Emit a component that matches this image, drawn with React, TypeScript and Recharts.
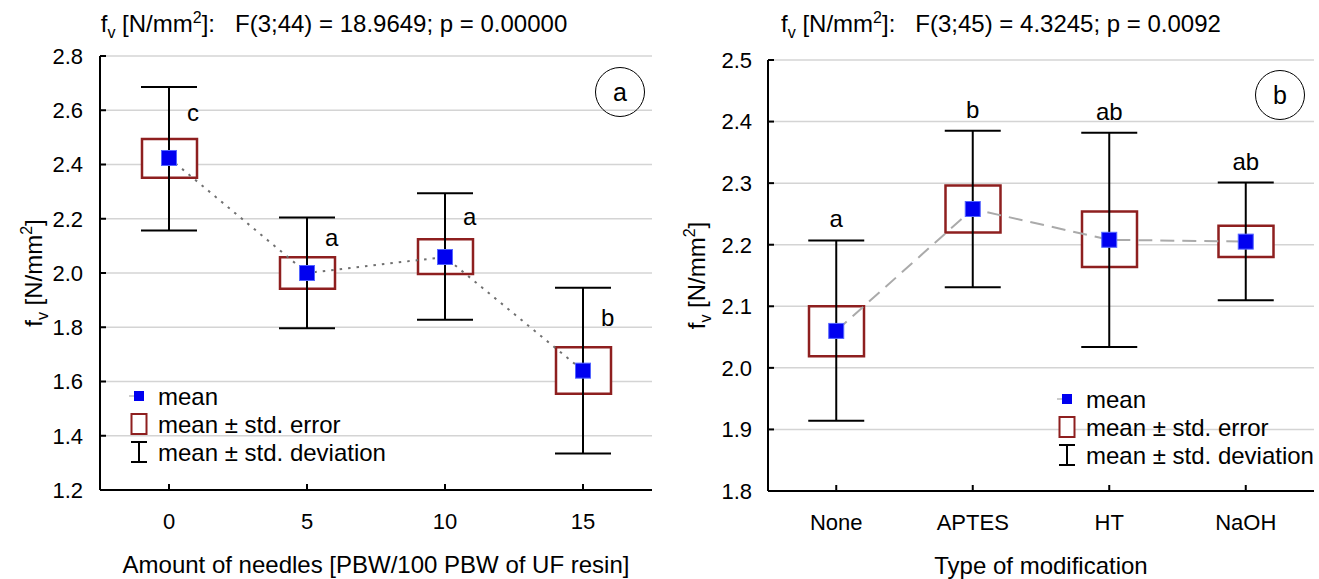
import React from "react";
import {
	ComposedChart,
	Bar,
	Line,
	Scatter,
	ErrorBar,
	XAxis,
	YAxis,
	CartesianGrid,
	ReferenceDot,
	Label,
} from "recharts";

const FONT = '"Liberation Sans", Arial, Helvetica, sans-serif';

// panel a: amount of needles
const needles = ["0", "5", "10", "15"];
const meanA = [2.424, 2.0, 2.059, 1.64];
const seLowA = [2.351, 1.942, 1.996, 1.555];
const seHighA = [2.494, 2.058, 2.124, 1.726];
const sdLowA = [2.157, 1.796, 1.828, 1.335];
const sdHighA = [2.686, 2.205, 2.294, 1.946];
const lettersA = ["c", "a", "a", "b"];
const ticksA = [1.2, 1.4, 1.6, 1.8, 2.0, 2.2, 2.4, 2.6, 2.8];

// panel b: type of modification
const mods = ["None", "APTES", "HT", "NaOH"];
const meanB = [2.06, 2.258, 2.208, 2.205];
const seLowB = [2.019, 2.22, 2.164, 2.18];
const seHighB = [2.1, 2.296, 2.254, 2.231];
const sdLowB = [1.914, 2.131, 2.034, 2.11];
const sdHighB = [2.207, 2.385, 2.382, 2.301];
const lettersB = ["a", "b", "ab", "ab"];
const ticksB = [1.8, 1.9, 2.0, 2.1, 2.2, 2.3, 2.4, 2.5];

const buildRows = (
	cats: string[],
	mean: number[],
	seLow: number[],
	seHigh: number[],
	sdLow: number[],
	sdHigh: number[],
	letters: string[]
) =>
	cats.map((cat, i) => ({
		cat,
		mean: mean[i],
		se: [seLow[i], seHigh[i]],
		sdErr: [mean[i] - sdLow[i], sdHigh[i] - mean[i]],
		sdHigh: sdHigh[i],
		letterMid: (sdHigh[i] + seHigh[i]) / 2,
		letter: letters[i],
	}));

const rowsA = buildRows(needles, meanA, seLowA, seHighA, sdLowA, sdHighA, lettersA);
const rowsB = buildRows(mods, meanB, seLowB, seHighB, sdLowB, sdHighB, lettersB);

const BOX = "#8e1f1f";
const BLUE = "#0000f0";

const MeanSquare = (props: any) => {
	const { cx, cy } = props;
	if (cx == null || cy == null) return <g />;
	return <rect x={cx - 7.5} y={cy - 7.5} width={15} height={15} fill={BLUE} stroke="#5566ff" strokeWidth={1} />;
};

const YTitle = ({ bx, cy }: any) => {
	return (
		<text
			x={bx}
			y={cy}
			transform={`rotate(-90 ${bx} ${cy})`}
			textAnchor="middle"
			fontSize={24}
			fontFamily={FONT}
			fill="#000"
		>
			f
			<tspan dy={6} fontSize={16}>v</tspan>
			<tspan dy={-6}> [N/mm</tspan>
			<tspan dy={-10} fontSize={16}>2</tspan>
			<tspan dy={10}>]</tspan>
		</text>
	);
};

type PanelProps = {
	rows: any[];
	domain: [number, number];
	ticks: number[];
	width: number;
	yAxisWidth: number;
	xAxisHeight: number;
	top: number;
	right: number;
	xLabel: string;
	yTitleX: number;
	lineColor: string;
	dash: string;
	letterSide: "right" | "top";
	yTickMargin: number;
};

const Panel = (p: PanelProps) => {
	const plotTop = p.top;
	const plotBottom = 579 - p.xAxisHeight;
	return (
		<ComposedChart
			width={p.width}
			height={579}
			data={p.rows}
			margin={{ top: p.top, right: p.right, bottom: 0, left: 0 }}
		>
			<CartesianGrid vertical={false} stroke="#d4d4d4" strokeWidth={1.5} />
			<XAxis
				dataKey="cat"
				height={p.xAxisHeight}
				interval={0}
				tickSize={-6}
				tickMargin={29}
				stroke="#000"
				axisLine={{ stroke: "#000", strokeWidth: 2 }}
				tickLine={{ stroke: "#000", strokeWidth: 2 }}
				tick={{ fill: "#000", fontSize: 22, fontFamily: FONT }}
			>
				<Label
					content={({ viewBox }: any) => (
						<text
							x={viewBox.x + viewBox.width / 2}
							y={viewBox.y + 83}
							textAnchor="middle"
							fontSize={24}
							fontFamily={FONT}
							fill="#000"
						>
							{p.xLabel}
						</text>
					)}
				/>
			</XAxis>
			<XAxis
				xAxisId="top"
				dataKey="cat"
				orientation="top"
				height={0}
				interval={0}
				tickSize={-6}
				tick={false}
				axisLine={{ stroke: "#000", strokeWidth: 2 }}
				tickLine={{ stroke: "#000", strokeWidth: 2 }}
			/>
			<YAxis
				type="number"
				domain={p.domain}
				ticks={p.ticks}
				interval={0}
				width={p.yAxisWidth}
				tickSize={-6}
				tickMargin={p.yTickMargin}
				tickFormatter={(v: number) => v.toFixed(1)}
				axisLine={{ stroke: "#000", strokeWidth: 2 }}
				tickLine={{ stroke: "#000", strokeWidth: 2 }}
				tick={{ fill: "#000", fontSize: 22, fontFamily: FONT }}
			>
				<Label content={() => <YTitle bx={p.yTitleX} cy={(plotTop + plotBottom) / 2} />} />
			</YAxis>
			<YAxis
				yAxisId="r"
				orientation="right"
				type="number"
				domain={p.domain}
				ticks={p.ticks}
				interval={0}
				width={0}
				tickSize={-6}
				tick={false}
				axisLine={{ stroke: "#000", strokeWidth: 2 }}
				tickLine={{ stroke: "#000", strokeWidth: 2 }}
			/>
			<Scatter
				dataKey="mean"
				xAxisId="top"
				yAxisId="r"
				shape={() => <g />}
				isAnimationActive={false}
			>
				<ErrorBar dataKey="sdErr" direction="y" width={28} stroke="#000" strokeWidth={2} isAnimationActive={false} />
			</Scatter>
			<Bar
				dataKey="se"
				barSize={55}
				fill="#fff"
				stroke={BOX}
				strokeWidth={2.5}
				isAnimationActive={false}
			/>
			<Line
				type="linear"
				dataKey="mean"
				stroke={p.lineColor}
				strokeWidth={2}
				strokeDasharray={p.dash}
				dot={false}
				activeDot={false}
				isAnimationActive={false}
			/>
			<Scatter dataKey="mean" shape={<MeanSquare />} isAnimationActive={false} />
			{p.rows.map((r) => (
				<ReferenceDot
					key={r.cat}
					x={r.cat}
					y={p.letterSide === "right" ? r.letterMid : r.sdHigh}
					r={0}
					stroke="none"
					fill="none"
					label={{
						value: r.letter,
						position: p.letterSide,
						offset: p.letterSide === "right" ? 18 : 13,
						fontSize: 24,
						fontFamily: FONT,
						fill: "#000",
					}}
				/>
			))}
		</ComposedChart>
	);
};

const LegendBox = ({ left, top }: { left: number; top: number }) => {
	const rowsY = [16, 44, 72];
	const cx = 19;
	const labels = ["mean", "mean \u00b1 std. error", "mean \u00b1 std. deviation"];
	return (
		<svg style={{ position: "absolute", left, top }} width={290} height={90}>
			<line x1={cx - 10} y1={rowsY[0]} x2={cx - 4} y2={rowsY[0]} stroke="#999" strokeWidth={1} />
			<rect x={cx - 5} y={rowsY[0] - 5} width={10} height={10} fill={BLUE} />
			<rect x={cx - 7.5} y={rowsY[1] - 10} width={15} height={20} fill="#fff" stroke={BOX} strokeWidth={2} />
			<line x1={cx} y1={rowsY[2] - 10} x2={cx} y2={rowsY[2] + 10} stroke="#000" strokeWidth={2} />
			<line x1={cx - 8} y1={rowsY[2] - 10} x2={cx + 8} y2={rowsY[2] - 10} stroke="#000" strokeWidth={2} />
			<line x1={cx - 8} y1={rowsY[2] + 10} x2={cx + 8} y2={rowsY[2] + 10} stroke="#000" strokeWidth={2} />
			{labels.map((t, i) => (
				<text key={t} x={38} y={rowsY[i] + 8.5} fontSize={24} fontFamily={FONT} fill="#000">
					{t}
				</text>
			))}
		</svg>
	);
};

const Title = ({ center, stat }: { center: number; stat: string }) => (
	<div
		style={{
			position: "absolute",
			left: center - 300,
			width: 600,
			top: 4,
			textAlign: "center",
			fontSize: 24,
			fontFamily: FONT,
			lineHeight: "28px",
			whiteSpace: "pre",
		}}
	>
		f<sub style={{ fontSize: 16 }}>v</sub> [N/mm<sup style={{ fontSize: 16 }}>2</sup>]:{"   "}
		{stat}
	</div>
);

const Circle = ({ cx, cy, text }: { cx: number; cy: number; text: string }) => (
	<div
		style={{
			position: "absolute",
			left: cx - 25,
			top: cy - 25,
			width: 48,
			height: 48,
			border: "1.5px solid #000",
			borderRadius: "50%",
			display: "flex",
			alignItems: "center",
			justifyContent: "center",
			fontSize: 25,
			fontFamily: FONT,
		}}
	>
		{text}
	</div>
);

export default function App() {
	return (
		<div
			style={{
				position: "absolute",
				left: 0,
				top: 0,
				width: 1319,
				height: 579,
				background: "#fff",
				overflow: "hidden",
			}}
		>
			<div style={{ position: "absolute", left: 0, top: 0 }}>
				<Panel
					rows={rowsA}
					domain={[1.2, 2.8]}
					ticks={ticksA}
					width={660}
					yAxisWidth={100}
					xAxisHeight={89}
					top={56}
					right={8}
					xLabel="Amount of needles [PBW/100 PBW of UF resin]"
					yTitleX={42}
					lineColor="#707070"
					dash="2.5 6"
					letterSide="right"
					yTickMargin={23}
				/>
			</div>
			<div style={{ position: "absolute", left: 660, top: 0 }}>
				<Panel
					rows={rowsB}
					domain={[1.8, 2.5]}
					ticks={ticksB}
					width={659}
					yAxisWidth={108}
					xAxisHeight={88}
					top={60}
					right={5}
					xLabel="Type of modification"
					yTitleX={45}
					lineColor="#aaaaaa"
					dash="14 8"
					letterSide="top"
					yTickMargin={22}
				/>
			</div>
			<Title center={334} stat="F(3;44) = 18.9649; p = 0.00000" />
			<Title center={1001} stat="F(3;45) = 4.3245; p = 0.0092" />
			<Circle cx={620} cy={92} text="a" />
			<Circle cx={1280} cy={95} text="b" />
			<LegendBox left={120} top={380} />
			<LegendBox left={1048} top={383} />
		</div>
	);
}
